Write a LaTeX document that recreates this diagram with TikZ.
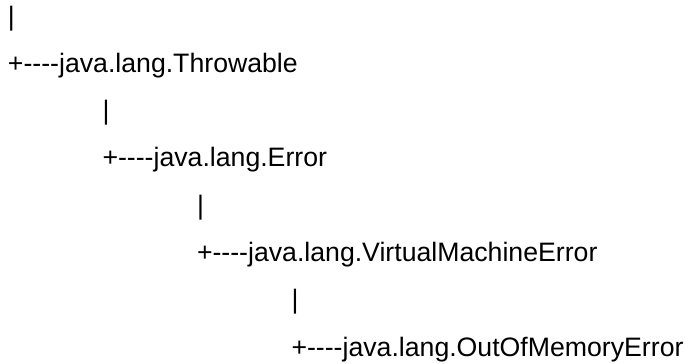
\documentclass[tikz,border=0pt]{standalone}
\usepackage{fontspec}
\setmainfont{Liberation Sans}
\begin{document}
\begin{tikzpicture}[x=1pt,y=-1pt,
  line/.style={anchor=base west,inner sep=0pt,outer sep=0pt,font=\fontsize{26.67}{30}\selectfont,text=black}]
\useasboundingbox (0,0) rectangle (689,364);
\node[line] (b0) at (8,25) {|};
\node[line] (t0) at (8,72.3) {+-{}-{}-{}-java.lang.Throwable};
\node[line] (b1) at (102.5,119.6) {|};
\node[line] (t1) at (102.5,166.9) {+-{}-{}-{}-java.lang.Error};
\node[line] (b2) at (197,214.2) {|};
\node[line] (t2) at (197,261.5) {+-{}-{}-{}-java.lang.VirtualMachineError};
\node[line] (b3) at (291.5,308.8) {|};
\node[line] (t3) at (291.5,356.1) {+-{}-{}-{}-java.lang.OutOfMemoryError};
\end{tikzpicture}
\end{document}
